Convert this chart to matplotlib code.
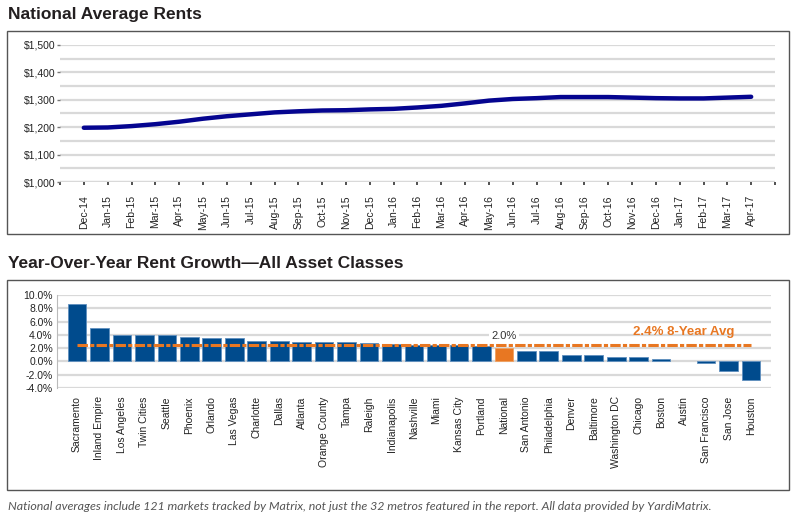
import matplotlib
matplotlib.use("Agg")
import matplotlib.pyplot as plt
from matplotlib.patches import Rectangle

plt.rcParams['font.family'] = ['Liberation Sans', 'DejaVu Sans']
plt.rcParams['lines.scale_dashes'] = False

months = ["Dec-14", "Jan-15", "Feb-15", "Mar-15", "Apr-15", "May-15", "Jun-15", "Jul-15",
          "Aug-15", "Sep-15", "Oct-15", "Nov-15", "Dec-15", "Jan-16", "Feb-16", "Mar-16",
          "Apr-16", "May-16", "Jun-16", "Jul-16", "Aug-16", "Sep-16", "Oct-16", "Nov-16",
          "Dec-16", "Jan-17", "Feb-17", "Mar-17", "Apr-17"]
rents = [1198, 1199, 1204, 1211, 1220, 1231, 1240, 1247, 1254, 1258, 1261, 1262, 1265, 1267,
         1272, 1278, 1287, 1297, 1303, 1306, 1310, 1310, 1310, 1308, 1306, 1305, 1305, 1308, 1311]

metros = ["Sacramento", "Inland Empire", "Los Angeles", "Twin Cities", "Seattle", "Phoenix",
          "Orlando", "Las Vegas", "Charlotte", "Dallas", "Atlanta", "Orange County", "Tampa",
          "Raleigh", "Indianapolis", "Nashville", "Miami", "Kansas City", "Portland", "National",
          "San Antonio", "Philadelphia", "Denver", "Baltimore", "Washington DC", "Chicago",
          "Boston", "Austin", "San Francisco", "San Jose", "Houston"]
growth = [8.6, 5.1, 4.0, 4.0, 4.0, 3.7, 3.5, 3.5, 3.1, 3.1, 3.0, 3.0, 3.0, 2.8, 2.6, 2.4,
          2.4, 2.4, 2.3, 2.0, 1.6, 1.6, 1.0, 0.9, 0.7, 0.6, 0.4, 0.0, -0.3, -1.5, -2.8]
avg_8yr = 2.4

W, H = 800, 529
fig = plt.figure(figsize=(8, 5.29), dpi=100)

def fx(px):
    return px / W

def fy(py):
    return 1 - py / H

title_color = '#231f20'
grid_color = '#d9d9d9'
text_color = '#222222'

# Boxes
for (x0, y0, x1, y1) in [(7, 31, 789, 234), (7, 280, 789, 490)]:
    fig.patches.append(Rectangle((fx(x0), fy(y1)), fx(x1 - x0), (y1 - y0) / H,
                                 transform=fig.transFigure, fill=False,
                                 edgecolor='#555555', linewidth=1.0))

fig.text(fx(8), fy(14), "National Average Rents", fontsize=12.5, fontweight='bold',
         color=title_color, va='center', ha='left')
fig.text(fx(8), fy(263), "Year-Over-Year Rent Growth\u2014All Asset Classes", fontsize=12.5,
         fontweight='bold', color=title_color, va='center', ha='left')

# ---- Line chart
ax1 = fig.add_axes([fx(60), fy(182), fx(775 - 60), (182 - 45) / H])
x = list(range(len(months)))
ax1.plot(x, rents, color='#050590', linewidth=3.2, solid_capstyle='round', zorder=3)
ax1.set_ylim(1000, 1500)
ax1.set_xlim(-1, len(months))
ax1.set_yticks(range(1000, 1501, 100))
ax1.set_yticklabels(["${:,}".format(v) for v in range(1000, 1501, 100)])
ax1.set_yticks(range(1050, 1500, 100), minor=True)
ax1.set_xticks(range(-1, len(months) + 1))
ax1.set_xticklabels([""] + months + [""], rotation=90)
ax1.grid(axis='y', which='both', color=grid_color, linewidth=1.6, zorder=0)
for s in ax1.spines.values():
    s.set_visible(False)
ax1.axhline(1000, color=grid_color, linewidth=1.6, zorder=1)
ax1.tick_params(axis='x', length=2.5, width=1.2, color='#333333', labelsize=7.5,
                labelcolor=text_color, pad=7)
ax1.tick_params(axis='y', which='major', length=2, width=1, color='#777777', labelsize=7.5,
                labelcolor=text_color, pad=1)
ax1.tick_params(axis='y', which='minor', length=0)

# ---- Bar chart
ax2 = fig.add_axes([fx(57), fy(388), fx(771 - 57), (388 - 295) / H])
xb = list(range(len(metros)))
colors = ['#e87722' if m == "National" else '#004b8d' for m in metros]
edges = [('none' if g == 0 else ('#f0a060' if m == "National" else '#5f8fbf'))
         for m, g in zip(metros, growth)]
ax2.bar(xb, growth, width=0.83, color=colors, edgecolor=edges, linewidth=0.6, zorder=2)
ax2.set_ylim(-4, 10)
ax2.set_xlim(-0.89, len(metros) - 1 + 0.89)
ax2.set_yticks(range(-4, 11, 2))
ax2.set_yticklabels(["{:.1f}%".format(v) for v in range(-4, 11, 2)])
ax2.set_xticks(xb)
ax2.set_xticklabels(metros, rotation=90)
ax2.grid(axis='y', color=grid_color, linewidth=1.6, zorder=0)
for s in ['top', 'right', 'bottom']:
    ax2.spines[s].set_visible(False)
ax2.spines['left'].set_color('#bbbbbb')
ax2.spines['left'].set_linewidth(0.8)
ax2.tick_params(axis='x', length=0, labelsize=7.5, labelcolor=text_color, pad=6)
ax2.tick_params(axis='y', length=0, labelsize=7.5, labelcolor=text_color, pad=3)

ax2.plot([0, len(metros) - 1], [avg_8yr, avg_8yr], color='#e87722', linewidth=2.2,
         dashes=(7.5, 1.6, 3.0, 1.6), zorder=4)
ax2.text(27, 3.55, "2.4% 8-Year Avg", color='#e87722', fontsize=9.5, fontweight='bold',
         ha='center', va='bottom', zorder=5)
nat = metros.index("National")
ax2.text(nat, 3.9, "{:.1f}%".format(growth[nat]), color='#333333', fontsize=8,
         ha='center', va='center', zorder=5,
         bbox=dict(facecolor='white', edgecolor='none', pad=1.5))

fig.text(fx(8), fy(507), "National averages include 121 markets tracked by Matrix, not just the 32 metros "
         "featured in the report. All data provided by YardiMatrix.",
         fontsize=8.9, style='italic', color='#555555', va='center', ha='left',
         family=['Lato', 'DejaVu Sans'])

fig.savefig("out.png", dpi=100, facecolor='white')
